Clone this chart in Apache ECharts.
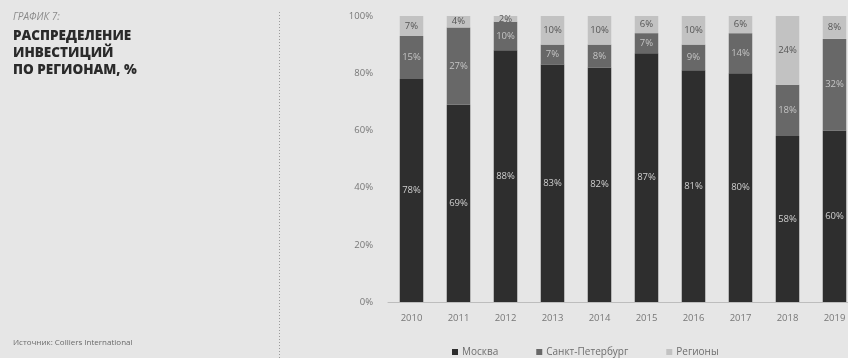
<!DOCTYPE html>
<html>
<head>
<meta charset="utf-8">
<style>
  html, body { margin: 0; padding: 0; background: #e6e6e6; }
  #chart { width: 848px; height: 358px; }
</style>
<script src="https://cdn.jsdelivr.net/npm/echarts@6/dist/echarts.min.js"></script>
</head>
<body>
<div id="chart"></div>
<script>
// Investment shares by region, per year (%)
const years = ['2010', '2011', '2012', '2013', '2014', '2015', '2016', '2017', '2018', '2019'];
const moscow = [78, 69, 88, 83, 82, 87, 81, 80, 58, 60];
const spb = [15, 27, 10, 7, 8, 7, 9, 14, 18, 32];
const regions = [7, 4, 2, 10, 10, 6, 10, 6, 24, 8];
const seriesNames = ['Москва', 'Санкт-Петербург', 'Регионы'];
const seriesColors = ['#2e2e2e', '#686868', '#c2c2c2'];
const labelColors = ['#cfcfcf', '#c4c4c4', '#555555'];

const FONT = '"Open Sans", sans-serif';

const chart = echarts.init(document.getElementById('chart'));

function barSeries(i, data) {
  return {
    name: seriesNames[i],
    type: 'bar',
    stack: 'total',
    barWidth: '50%',
    data: data,
    itemStyle: { color: seriesColors[i] },
    label: {
      show: true,
      position: 'inside',
      formatter: '{c}%',
      color: labelColors[i],
      fontSize: 9.5,
      fontFamily: FONT
    }
  };
}

chart.setOption({
  backgroundColor: '#e6e6e6',
  animation: false,
  grid: { left: 388, width: 470, top: 16, bottom: 56, outerBoundsMode: 'none', containLabel: false },
  legend: {
    bottom: -4,
    left: 447,
    itemWidth: 6,
    itemHeight: 6,
    itemGap: 38,
    icon: 'rect',
    textStyle: { color: '#6e6e6e', fontSize: 10, fontFamily: FONT, padding: [0, 0, 0, -1] },
    data: seriesNames
  },
  xAxis: {
    type: 'category',
    data: years,
    axisLine: { lineStyle: { color: '#bdbdbd', width: 1 } },
    axisTick: { show: false },
    axisLabel: { color: '#777', fontSize: 9.5, fontFamily: FONT, margin: 11 }
  },
  yAxis: {
    type: 'value',
    min: 0,
    max: 100,
    interval: 20,
    axisLabel: { formatter: '{value}%', color: '#777', fontSize: 9.5, fontFamily: FONT, margin: 15 },
    splitLine: { show: false },
    axisLine: { show: false },
    axisTick: { show: false }
  },
  graphic: [
    {
      type: 'text', left: 13, top: 12,
      style: { text: 'ГРАФИК 7:', fill: '#8a8a8a', font: 'italic 10px ' + FONT }
    },
    {
      type: 'text', left: 13, top: 28,
      style: {
        text: 'РАСПРЕДЕЛЕНИЕ\nИНВЕСТИЦИЙ\nПО РЕГИОНАМ, %',
        fill: '#2a2a2a',
        font: '800 13.5px ' + FONT,
        lineHeight: 17
      }
    },
    {
      type: 'text', left: 13, top: 339,
      style: { text: 'Источник: Colliers International', fill: '#6a6a6a', font: '8px ' + FONT }
    },
    {
      type: 'line',
      shape: { x1: 279.5, y1: 12, x2: 279.5, y2: 358 },
      style: { stroke: '#9a9a9a', lineWidth: 1, lineDash: [1, 2] }
    }
  ],
  series: [
    barSeries(0, moscow),
    barSeries(1, spb),
    barSeries(2, regions)
  ]
});
</script>
</body>
</html>
